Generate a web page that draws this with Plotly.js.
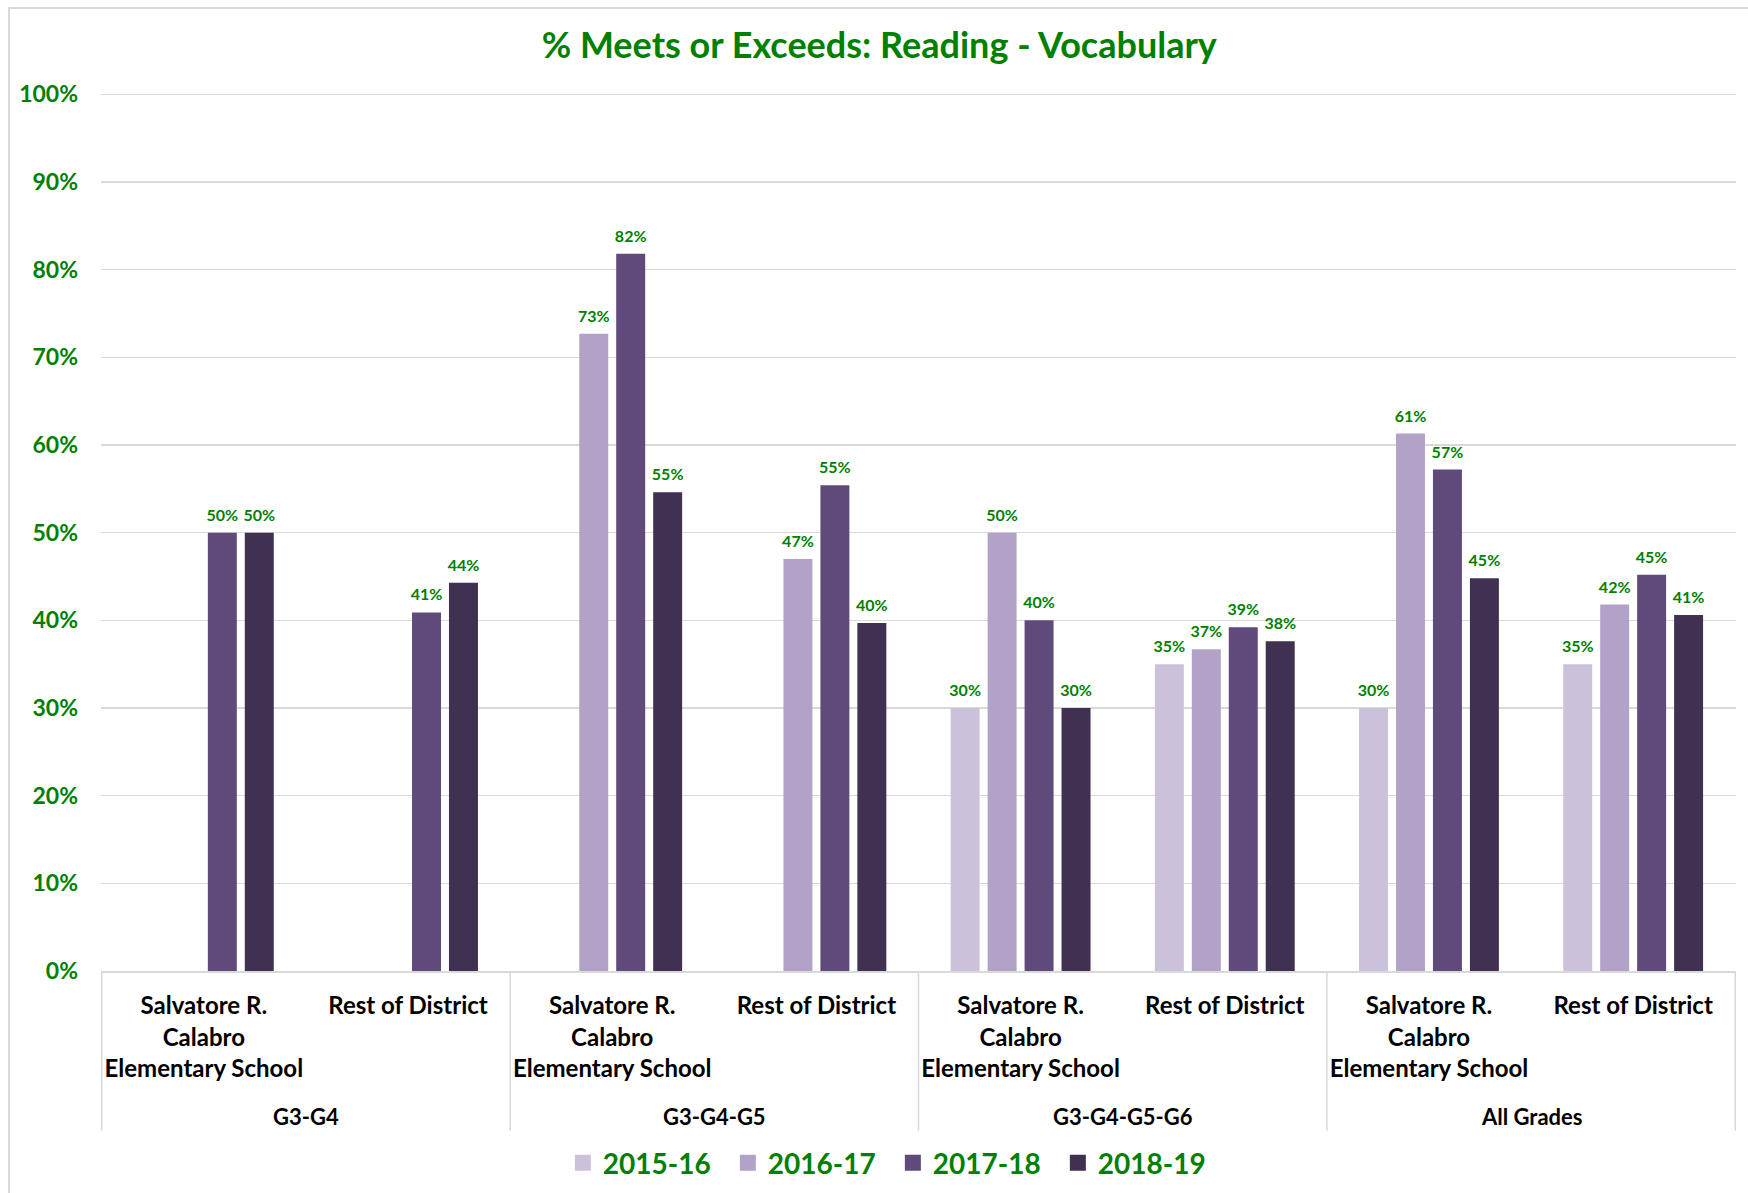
<!DOCTYPE html>
<html><head><meta charset="utf-8">
<script src="https://cdn.plot.ly/plotly-3.0.1.min.js"></script>
<style>
html,body{margin:0;padding:0;overflow:hidden;background:#fff}
#chart{width:1748px;height:1193px}
#frame{position:absolute;left:8px;top:7px;width:1760px;height:1220px;border:2px solid #D9D9D9;pointer-events:none}
</style>
</head><body><div id="chart"></div><div id="frame"></div>
<script>
// ---- data ----
const gradeGroups = ['G3-G4', 'G3-G4-G5', 'G3-G4-G5-G6', 'All Grades'];
const schoolLabels = ['Salvatore R.<br>Calabro<br>Elementary School', 'Rest of District'];
const seriesNames = ['2015-16', '2016-17', '2017-18', '2018-19'];
const v2015_16 = [null, null, null, null, 30, 35, 30, 35];
const v2016_17 = [null, null, 72.7, 47.0, 50, 36.7, 61.3, 41.8];
const v2017_18 = [50, 40.9, 81.8, 55.4, 40, 39.2, 57.2, 45.2];
const v2018_19 = [50, 44.3, 54.6, 39.7, 30, 37.6, 44.8, 40.6];
const seriesColors = ['#CCC1DA', '#B2A2C7', '#604A7B', '#403152'];

const GREEN = '#008000';
const FONT = 'Lato, Carlito, "Liberation Sans", sans-serif';

// category keys (one per grade group x school)
const keys = [], tickText = [];
gradeGroups.forEach(g => schoolLabels.forEach(s => { keys.push(g + '|' + s); tickText.push(s); }));

// invisible padding around data labels lifts them a little above the bar top
const PAD = '<span style="font-size:42px">&nbsp;</span>';

const allValues = [v2015_16, v2016_17, v2017_18, v2018_19];
const traces = allValues.map((vals, i) => ({
  type: 'bar',
  name: seriesNames[i],
  legendgroup: seriesNames[i],
  showlegend: false,
  x: keys,
  y: vals,
  marker: {color: seriesColors[i]},
  texttemplate: PAD + '%{y:.0f}%' + PAD,
  textposition: 'outside',
  constraintext: 'none',
  cliponaxis: false,
  textfont: {family: FONT, size: 16, color: GREEN, weight: 'bold'},
  hoverinfo: 'skip'
}));
// legend entries (square swatches, same series / colours)
seriesNames.forEach((n, i) => traces.push({
  type: 'scatter', mode: 'markers', name: n, legendgroup: n,
  x: [null], y: [null],
  marker: {symbol: 'square', size: 16, color: seriesColors[i]},
  hoverinfo: 'skip'
}));

const annotations = gradeGroups.map((g, gi) => ({
  text: g, xref: 'x', yref: 'paper', x: gi * 2 + 0.5, y: -0.1662,
  xanchor: 'center', yanchor: 'middle', showarrow: false,
  font: {family: FONT, size: 22, color: '#000', weight: 'bold'}
}));

const shapes = [];
for (let gi = 0; gi <= gradeGroups.length; gi++) {
  shapes.push({type: 'line', xref: 'x', yref: 'paper', x0: gi * 2 - 0.5, x1: gi * 2 - 0.5,
    y0: 0, y1: -0.182, line: {color: '#D9D9D9', width: 1.5}});
}

const layout = {
  width: 1748, height: 1193,
  margin: {l: 101, r: 12, t: 92.5, b: 222},
  paper_bgcolor: '#fff', plot_bgcolor: '#fff',
  barmode: 'group', bargap: 0.276, bargroupgap: 0.216,
  title: {text: '% Meets or Exceeds: Reading - Vocabulary', xref: 'container', yref: 'container',
    x: 0.503, xanchor: 'center', y: 0.9623, yanchor: 'middle',
    font: {family: FONT, size: 36, color: GREEN, weight: 'bold'}},
  xaxis: {type: 'category', tickmode: 'array', tickvals: keys, ticktext: tickText,
    ticks: '', showline: true, linecolor: '#D9D9D9', linewidth: 1.5, showgrid: false,
    ticklabelstandoff: 13, tickangle: 0,
    tickfont: {family: FONT, size: 24, color: '#000', weight: 'bold'}},
  yaxis: {range: [0, 100.15], tickmode: 'linear', tick0: 0, dtick: 10, ticksuffix: '%',
    showgrid: true, gridcolor: '#D9D9D9', gridwidth: 1.5,
    zeroline: false, ticks: '', ticklabelstandoff: 22,
    tickfont: {family: FONT, size: 23, color: GREEN, weight: 'bold'}},
  showlegend: true,
  legend: {orientation: 'h', xref: 'container', yref: 'container', x: 0.322, xanchor: 'left',
    y: 0.0251, yanchor: 'middle', entrywidth: 120, entrywidthmode: 'pixels', traceorder: 'normal',
    itemsizing: 'trace',
    font: {family: FONT, size: 28, color: GREEN, weight: 'bold'}},
  annotations: annotations,
  shapes: shapes
};

Plotly.newPlot('chart', traces, layout, {displayModeBar: false, staticPlot: true});
</script>
</body></html>
